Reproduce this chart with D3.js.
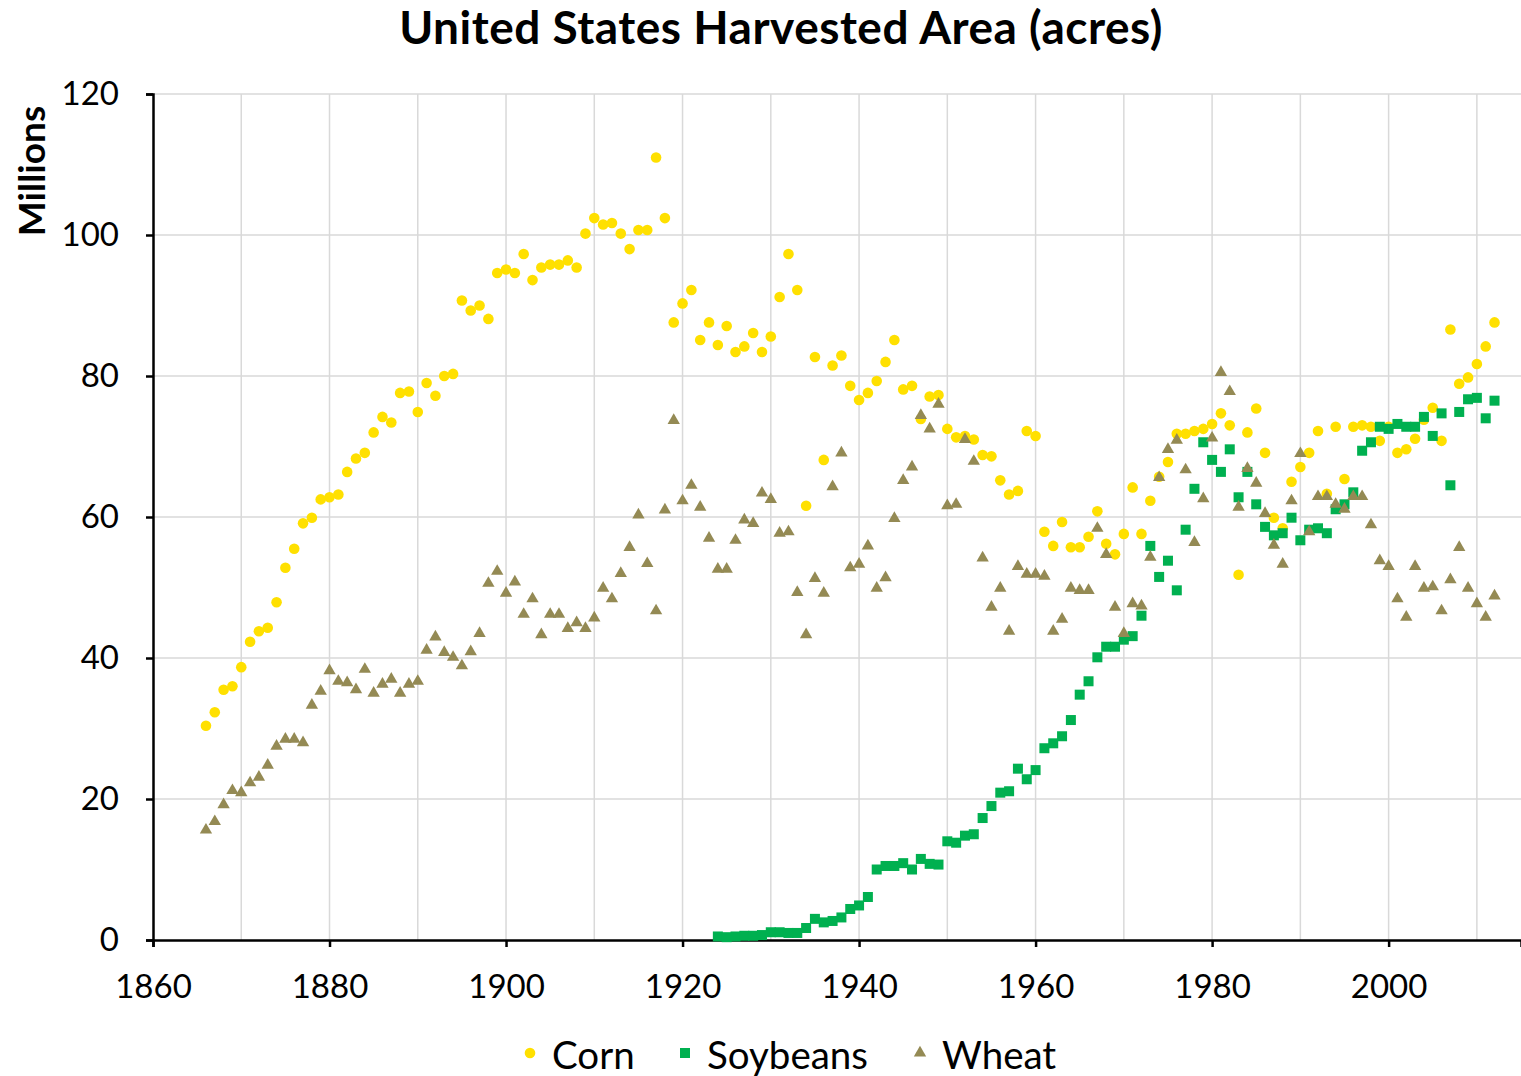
<!DOCTYPE html>
<html>
<head>
<meta charset="utf-8">
<script src="https://cdn.jsdelivr.net/npm/d3@7"></script>
<style>
  body { margin: 0; background: #fff; }
  text { font-family: Lato, "Open Sans", sans-serif; }
</style>
</head>
<body>
<div id="chart"></div>
<script>
// Harvested area in millions of acres, one value per year
const cornStart = 1866;
const corn = [
  30.4, 32.3, 35.5, 36.0, 38.7, 42.3, 43.8, 44.3, 47.9, 52.8,
  55.5, 59.1, 59.9, 62.5, 62.8, 63.2, 66.4, 68.3, 69.1, 72.0,
  74.2, 73.4, 77.6, 77.8, 74.9, 79.0, 77.2, 80.0, 80.3, 90.7,
  89.3, 90.0, 88.1, 94.6, 95.1, 94.6, 97.3, 93.6, 95.4, 95.8,
  95.8, 96.4, 95.4, 100.2, 102.4, 101.5, 101.7, 100.2, 98.0, 100.7,
  100.7, 111.0, 102.4, 87.6, 90.3, 92.2, 85.1, 87.6, 84.4, 87.1,
  83.4, 84.2, 86.1, 83.4, 85.6, 91.2, 97.3, 92.2, 61.6, 82.7,
  68.1, 81.5, 82.9, 78.6, 76.6, 77.6, 79.3, 82.0, 85.1, 78.1,
  78.6, 73.9, 77.1, 77.3, 72.5, 71.3, 71.5, 71.0, 68.8, 68.6,
  65.2, 63.2, 63.7, 72.2, 71.5, 57.9, 55.9, 59.3, 55.7, 55.7,
  57.2, 60.8, 56.2, 54.7, 57.6, 64.2, 57.6, 62.3, 65.7, 67.8,
  71.8, 71.8, 72.2, 72.5, 73.2, 74.7, 73.0, 51.8, 72.0, 75.4,
  69.1, 59.9, 58.4, 65.0, 67.1, 69.1, 72.2, 63.3, 72.8, 65.4,
  72.8, 73.0, 72.8, 70.8, 72.8, 69.1, 69.6, 71.1, 73.8, 75.5,
  70.8, 86.6, 78.9, 79.8, 81.7, 84.2, 87.6
];

const soyStart = 1924;
const soybeans = [
  0.5, 0.4, 0.5, 0.6, 0.6, 0.7, 1.1, 1.1, 1.0, 1.0,
  1.7, 3.0, 2.5, 2.7, 3.2, 4.4, 4.9, 6.1, 10.0, 10.5,
  10.5, 10.9, 10.0, 11.5, 10.8, 10.7, 14.0, 13.8, 14.8, 15.0,
  17.3, 19.0, 20.9, 21.1, 24.3, 22.8, 24.1, 27.2, 27.9, 28.9,
  31.2, 34.8, 36.7, 40.1, 41.6, 41.6, 42.6, 43.1, 46.0, 55.9,
  51.5, 53.8, 49.6, 58.2, 64.0, 70.6, 68.1, 66.4, 69.6, 62.8,
  66.4, 61.8, 58.6, 57.4, 57.7, 59.9, 56.7, 58.2, 58.4, 57.7,
  61.1, 61.8, 63.5, 69.4, 70.6, 72.8, 72.5, 73.2, 72.8, 72.8,
  74.2, 71.5, 74.7, 64.5, 74.9, 76.7, 76.9, 74.0, 76.5
];

const wheatStart = 1866;
const wheat = [
  15.6, 16.8, 19.2, 21.2, 20.9, 22.3, 23.1, 24.8, 27.5, 28.5,
  28.5, 28.0, 33.3, 35.3, 38.2, 36.7, 36.5, 35.5, 38.4, 35.0,
  36.3, 37.0, 35.0, 36.3, 36.7, 41.1, 43.0, 40.8, 40.1, 38.9,
  40.9, 43.5, 50.6, 52.3, 49.2, 50.8, 46.2, 48.4, 43.3, 46.2,
  46.2, 44.2, 45.0, 44.2, 45.7, 49.9, 48.4, 52.0, 55.7, 60.3,
  53.4, 46.7, 61.0, 73.7, 62.3, 64.5, 61.4, 57.0, 52.6, 52.6,
  56.7, 59.6, 59.1, 63.4, 62.5, 57.7, 57.9, 49.3, 43.3, 51.3,
  49.2, 64.3, 69.1, 52.8, 53.3, 55.9, 49.9, 51.4, 59.8, 65.2,
  67.1, 74.4, 72.5, 76.0, 61.6, 61.8, 71.0, 67.9, 54.2, 47.2,
  49.9, 43.8, 53.0, 51.9, 51.9, 51.6, 43.8, 45.5, 49.9, 49.6,
  49.6, 58.4, 54.7, 47.2, 43.5, 47.7, 47.4, 54.3, 65.6, 69.6,
  70.9, 66.7, 56.4, 62.6, 71.2, 80.5, 77.8, 61.4, 66.9, 64.8,
  60.5, 56.0, 53.3, 62.3, 69.0, 57.9, 62.9, 62.9, 61.8, 61.1,
  62.9, 62.9, 58.9, 53.8, 53.0, 48.4, 45.8, 53.0, 49.9, 50.1,
  46.7, 51.1, 55.7, 49.9, 47.7, 45.8, 48.8
];

const seriesNames = ['Corn', 'Soybeans', 'Wheat'];
const seriesColors = ['#FFE000', '#00B050', '#948A54'];
const xTicks = [1860, 1880, 1900, 1920, 1940, 1960, 1980, 2000];
const yTicks = [0, 20, 40, 60, 80, 100, 120];

const width = 1521, height = 1076;
const margin = { top: 94, right: 0, bottom: 136, left: 153 };

const svg = d3.select('#chart').append('svg')
  .attr('width', width)
  .attr('height', height);

const x = d3.scaleLinear().domain([1860, 2015]).range([margin.left, width - margin.right]);
const y = d3.scaleLinear().domain([0, 120]).range([height - margin.bottom, margin.top]);

// gridlines
svg.append('g')
  .selectAll('line')
  .data(d3.range(1870, 2015, 10))
  .enter().append('line')
  .attr('x1', d => x(d)).attr('x2', d => x(d))
  .attr('y1', y(0)).attr('y2', y(120))
  .attr('stroke', '#d9d9d9').attr('stroke-width', 1.5);

svg.append('g')
  .selectAll('line')
  .data(yTicks.slice(1))
  .enter().append('line')
  .attr('x1', x(1860)).attr('x2', x(2015))
  .attr('y1', d => y(d)).attr('y2', d => y(d))
  .attr('stroke', '#d9d9d9').attr('stroke-width', 1.5);

// axes
const xAxis = svg.append('g')
  .attr('transform', `translate(0,${y(0)})`)
  .call(d3.axisBottom(x).tickValues(xTicks).tickFormat(d3.format('d')).tickSize(7).tickPadding(28));
const yAxis = svg.append('g')
  .attr('transform', `translate(${x(1860)},0)`)
  .call(d3.axisLeft(y).tickValues(yTicks).tickSize(7).tickPadding(27));

[xAxis, yAxis].forEach(g => {
  g.select('.domain').attr('stroke', '#000').attr('stroke-width', 2.5);
  g.selectAll('.tick line').attr('stroke', '#000').attr('stroke-width', 2.5);
  g.selectAll('.tick text').attr('font-size', 33).attr('fill', '#000')
    .style('font-family', 'Lato, sans-serif');
});

// points
const toPoints = (vals, start) => vals.map((v, i) => ({ year: start + i, v: v }));

svg.append('g').selectAll('circle')
  .data(toPoints(corn, cornStart))
  .enter().append('circle')
  .attr('cx', d => x(d.year)).attr('cy', d => y(d.v))
  .attr('r', 5.3)
  .attr('fill', seriesColors[0]);

svg.append('g').selectAll('rect')
  .data(toPoints(soybeans, soyStart))
  .enter().append('rect')
  .attr('x', d => x(d.year) - 5).attr('y', d => y(d.v) - 5)
  .attr('width', 10).attr('height', 10)
  .attr('fill', seriesColors[1]);

const tri = d3.symbol().type(d3.symbolTriangle).size(66);
svg.append('g').selectAll('path')
  .data(toPoints(wheat, wheatStart))
  .enter().append('path')
  .attr('transform', d => `translate(${x(d.year)},${y(d.v)})`)
  .attr('d', tri)
  .attr('fill', seriesColors[2]);

// title and axis label
svg.append('text')
  .attr('x', 781).attr('y', 44)
  .attr('text-anchor', 'middle')
  .attr('font-size', 46).attr('font-weight', 'bold')
  .attr('letter-spacing', 0.5)
  .text('United States Harvested Area (acres)');

svg.append('text')
  .attr('transform', 'translate(45,171) rotate(-90)')
  .attr('text-anchor', 'middle')
  .attr('font-size', 37).attr('font-weight', 'bold')
  .text('Millions');

// legend
const legendX = [530, 685, 920];
const legend = svg.append('g');
seriesNames.forEach((name, i) => {
  const lx = legendX[i], ly = 1057;
  if (i === 0) {
    legend.append('circle').attr('cx', lx).attr('cy', ly - 4).attr('r', 5.3).attr('fill', seriesColors[0]);
  } else if (i === 1) {
    legend.append('rect').attr('x', lx - 5).attr('y', ly - 9).attr('width', 10).attr('height', 10).attr('fill', seriesColors[1]);
  } else {
    legend.append('path').attr('transform', `translate(${lx},${ly - 4})`).attr('d', tri).attr('fill', seriesColors[2]);
  }
  legend.append('text')
    .attr('x', lx + 22).attr('y', ly + 12)
    .attr('font-size', 38.5)
    .text(name);
});
</script>
</body>
</html>
